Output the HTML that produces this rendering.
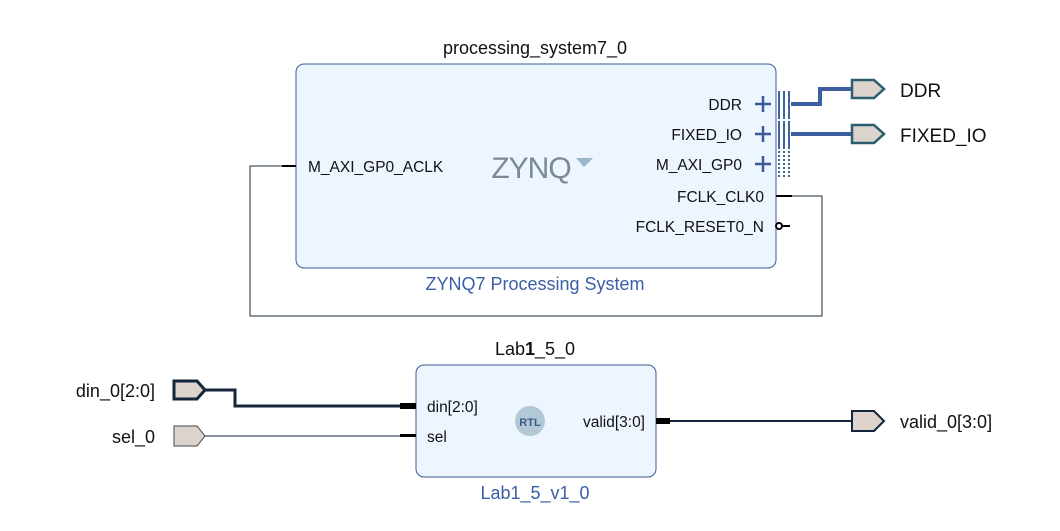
<!DOCTYPE html>
<html><head><style>body{margin:0;background:#fff}svg text{font-family:"Liberation Sans",sans-serif}</style></head><body>
<svg width="1060" height="526" viewBox="0 0 1060 526" xmlns="http://www.w3.org/2000/svg">
<rect x="296" y="64" width="480" height="204" rx="8" fill="#edf5fe" stroke="#3c5a9a" stroke-width="1"/>
<text x="535" y="54" font-size="18" text-anchor="middle" fill="#111">processing_system7_0</text>
<text x="535" y="290" font-size="18" text-anchor="middle" fill="#3b5ea6">ZYNQ7 Processing System</text>
<line x1="282" y1="166" x2="296" y2="166" stroke="#000" stroke-width="2"/>
<text x="308" y="172" font-size="15.5" fill="#111">M_AXI_GP0_ACLK</text>
<text x="531" y="178" font-size="30" text-anchor="middle" fill="#7b8a96" letter-spacing="-1">ZYNQ</text>
<polygon points="576,158 593,158 584,167" fill="#9bb8c8"/>
<g font-size="15.5" fill="#111" text-anchor="end">
<text x="742" y="110">DDR</text><text x="742" y="140">FIXED_IO</text><text x="742" y="170">M_AXI_GP0</text>
<text x="764" y="202">FCLK_CLK0</text><text x="764" y="232">FCLK_RESET0_N</text></g>
<g stroke="#3c5a9a" stroke-width="2.5">
<path d="M755 104h16M763 96v16M755 134h16M763 126v16M755 164h16M763 156v16"/></g>
<g stroke="#3c64a0" stroke-width="2">
<path d="M779 91v28M784 91v28M789 91v28M779 121v28M784 121v28M789 121v28"/>
<path d="M779 151v28M784 151v28M789 151v28" stroke-dasharray="2,2"/></g>
<line x1="776" y1="196" x2="792" y2="196" stroke="#000" stroke-width="2"/>
<circle cx="779" cy="226" r="3" fill="#fff" stroke="#000" stroke-width="2"/>
<line x1="782" y1="226" x2="790" y2="226" stroke="#000" stroke-width="2"/>
<path d="M792 196H822V316H250V166H282" fill="none" stroke="#1a2a3a" stroke-width="1"/>
<path d="M791 104H820V89H852M791 134H852" fill="none" stroke="#3d5f9e" stroke-width="4"/>
<g fill="#dcd3cd" stroke="#2b5e6e" stroke-width="2.5">
<polygon points="852,80 874,80 884,89 874,98 852,98"/>
<polygon points="852,125 874,125 884,134 874,143 852,143"/></g>
<text x="900" y="97" font-size="19" fill="#111">DDR</text>
<text x="900" y="142" font-size="19" fill="#111">FIXED_IO</text>

<rect x="416" y="365" width="240" height="112" rx="8" fill="#edf5fe" stroke="#3c5a9a" stroke-width="1"/>
<text x="535" y="355" font-size="18" text-anchor="middle" fill="#111">Lab<tspan font-weight="bold">1</tspan>_5_0</text>
<text x="535" y="499" font-size="18" text-anchor="middle" fill="#3b5ea6">Lab1_5_v1_0</text>
<text x="427" y="412" font-size="15.5" fill="#111">din[2:0]</text>
<text x="427" y="442" font-size="15.5" fill="#111">sel</text>
<text x="645" y="427" font-size="15.5" fill="#111" text-anchor="end">valid[3:0]</text>
<circle cx="530" cy="421" r="15" fill="#b2c8d4"/>
<text x="530" y="426" font-size="11" font-weight="bold" text-anchor="middle" fill="#3a5a8a">RTL</text>
<path d="M205 390H235V406H400" fill="none" stroke="#13263a" stroke-width="3"/>
<rect x="400" y="403" width="16" height="6" fill="#000"/>
<path d="M205 436H400" stroke="#13263a" stroke-width="1"/>
<rect x="400" y="434" width="16" height="3" fill="#000"/>
<rect x="656" y="418" width="14" height="6" fill="#000"/>
<path d="M670 421H852" stroke="#13263a" stroke-width="2"/>
<polygon points="174,381 197,381 205,390 197,399 174,399" fill="#dcd3cd" stroke="#13263a" stroke-width="3"/>
<polygon points="174,426 197,426 205,436 197,446 174,446" fill="#dcd3cd" stroke="#444" stroke-width="1"/>
<polygon points="852,411 874,411 884,421 874,431 852,431" fill="#dcd3cd" stroke="#13263a" stroke-width="2"/>
<text x="155" y="397" font-size="18" fill="#111" text-anchor="end">din_0[2:0]</text>
<text x="155" y="443" font-size="18" fill="#111" text-anchor="end">sel_0</text>
<text x="900" y="428" font-size="18" fill="#111">valid_0[3:0]</text>
</svg></body></html>
